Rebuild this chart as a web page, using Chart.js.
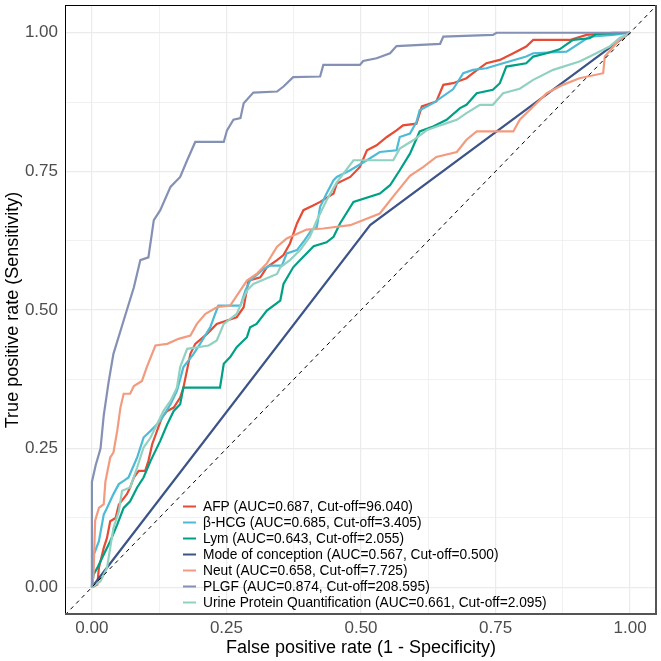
<!DOCTYPE html>
<html><head><meta charset="utf-8">
<script src="https://cdn.jsdelivr.net/npm/chart.js@4/dist/chart.umd.min.js"></script>
<style>html,body{margin:0;padding:0;background:#fff}canvas{display:block}</style>
</head><body>
<canvas id="c" width="661" height="661"></canvas>
<script>
// ---------- DATA ----------
const seriesNames = ["AFP", "β-HCG", "Lym", "Mode of conception", "Neut", "PLGF", "Urine Protein Quantification"];
const seriesAUC = ["0.687", "0.685", "0.643", "0.567", "0.658", "0.874", "0.661"];
const seriesCutoff = ["96.040", "3.405", "2.055", "0.500", "7.725", "208.595", "2.095"];

const afpFPR = [0,0.010,0.013,0.022,0.028,0.034,0.044,0.050,0.065,0.071,0.078,0.087,0.099,0.105,0.112,0.121,0.130,0.140,0.152,0.164,0.170,0.183,0.192,0.214,0.232,0.251,0.269,0.282,0.291,0.313,0.325,0.344,0.356,0.368,0.381,0.393,0.412,0.424,0.449,0.455,0.480,0.498,0.511,0.529,0.548,0.566,0.578,0.603,0.613,0.640,0.653,0.671,0.696,0.708,0.733,0.758,0.783,0.807,0.820,0.888,0.919,0.968,1.0];
const afpTPR = [0,0.005,0.035,0.071,0.089,0.119,0.125,0.149,0.168,0.180,0.198,0.210,0.210,0.228,0.258,0.282,0.306,0.318,0.324,0.342,0.360,0.421,0.439,0.457,0.475,0.481,0.487,0.505,0.553,0.559,0.577,0.590,0.599,0.620,0.656,0.680,0.689,0.695,0.710,0.728,0.740,0.758,0.788,0.797,0.812,0.824,0.833,0.836,0.867,0.876,0.906,0.909,0.918,0.927,0.945,0.951,0.963,0.975,0.987,0.987,0.996,1.0,1.0];

const hcgFPR = [0,0.003,0.006,0.013,0.022,0.028,0.040,0.050,0.059,0.068,0.084,0.096,0.109,0.127,0.146,0.158,0.170,0.189,0.201,0.220,0.229,0.235,0.276,0.285,0.294,0.319,0.331,0.353,0.362,0.381,0.393,0.408,0.418,0.424,0.430,0.436,0.449,0.455,0.480,0.511,0.535,0.566,0.572,0.591,0.603,0.609,0.634,0.671,0.690,0.708,0.733,0.764,0.807,0.820,0.882,0.925,0.968,1.0];
const hcgTPR = [0,0.059,0.065,0.083,0.131,0.143,0.168,0.186,0.192,0.198,0.234,0.270,0.282,0.300,0.330,0.354,0.397,0.421,0.439,0.469,0.493,0.508,0.508,0.535,0.553,0.574,0.580,0.580,0.602,0.608,0.623,0.644,0.650,0.686,0.698,0.710,0.734,0.740,0.752,0.770,0.785,0.788,0.812,0.818,0.839,0.860,0.873,0.898,0.927,0.933,0.936,0.945,0.957,0.963,0.966,0.993,0.996,1.0];

const lymFPR = [0,0.003,0.010,0.022,0.034,0.047,0.059,0.071,0.084,0.096,0.109,0.127,0.140,0.152,0.164,0.170,0.238,0.245,0.257,0.269,0.288,0.294,0.306,0.325,0.350,0.356,0.374,0.387,0.412,0.436,0.449,0.461,0.486,0.535,0.554,0.572,0.591,0.609,0.634,0.659,0.684,0.696,0.715,0.745,0.758,0.770,0.807,0.820,0.845,0.869,0.882,0.894,0.925,0.937,1.0];
const lymTPR = [0,0.023,0.035,0.059,0.083,0.113,0.143,0.155,0.180,0.198,0.228,0.264,0.294,0.318,0.330,0.360,0.360,0.403,0.415,0.433,0.451,0.469,0.475,0.499,0.517,0.547,0.577,0.590,0.615,0.622,0.632,0.656,0.695,0.710,0.725,0.752,0.782,0.822,0.831,0.843,0.864,0.870,0.891,0.897,0.909,0.939,0.945,0.957,0.963,0.970,0.979,0.987,0.990,0.998,1.0];

const modeFPR = [0,0.517,1.0];
const modeTPR = [0,0.653,1.0];

const neutFPR = [0,0.003,0.006,0.013,0.022,0.025,0.034,0.040,0.047,0.053,0.059,0.071,0.078,0.093,0.102,0.118,0.140,0.161,0.183,0.195,0.211,0.232,0.257,0.288,0.306,0.325,0.344,0.362,0.399,0.430,0.480,0.535,0.560,0.591,0.616,0.640,0.678,0.696,0.715,0.783,0.795,0.820,0.845,0.875,0.906,0.950,0.953,0.980,1.0];
const neutTPR = [0,0.023,0.12,0.143,0.15,0.19,0.234,0.243,0.282,0.324,0.349,0.349,0.363,0.372,0.397,0.436,0.439,0.448,0.454,0.475,0.493,0.505,0.508,0.553,0.565,0.584,0.614,0.629,0.645,0.647,0.653,0.674,0.705,0.742,0.758,0.776,0.785,0.807,0.822,0.822,0.843,0.867,0.891,0.906,0.918,0.927,0.957,0.987,1.0];

const plgfFPR = [0,0,0.007,0.016,0.022,0.031,0.040,0.059,0.078,0.090,0.105,0.115,0.127,0.146,0.164,0.177,0.192,0.245,0.251,0.263,0.276,0.282,0.300,0.344,0.356,0.374,0.424,0.430,0.498,0.504,0.529,0.554,0.566,0.647,0.653,0.745,0.752,1.0];
const plgfTPR = [0,0.19,0.22,0.25,0.31,0.37,0.421,0.481,0.541,0.590,0.595,0.662,0.680,0.722,0.740,0.770,0.803,0.803,0.824,0.843,0.846,0.873,0.892,0.894,0.903,0.920,0.921,0.942,0.942,0.949,0.954,0.963,0.976,0.980,0.993,0.996,1.0,1.0];

const urineFPR = [0,0.016,0.028,0.034,0.040,0.050,0.056,0.071,0.084,0.096,0.109,0.121,0.133,0.146,0.158,0.164,0.177,0.217,0.232,0.245,0.269,0.288,0.300,0.344,0.350,0.368,0.387,0.405,0.418,0.436,0.455,0.486,0.560,0.572,0.597,0.622,0.647,0.678,0.696,0.721,0.745,0.764,0.795,0.820,0.857,0.906,0.925,0.962,0.980,1.0];
const urineTPR = [0,0.011,0.035,0.071,0.107,0.137,0.174,0.180,0.216,0.252,0.270,0.294,0.318,0.336,0.360,0.397,0.430,0.436,0.445,0.475,0.493,0.535,0.547,0.565,0.577,0.590,0.608,0.632,0.662,0.698,0.730,0.770,0.770,0.791,0.806,0.824,0.833,0.843,0.855,0.870,0.870,0.891,0.899,0.915,0.933,0.948,0.957,0.975,0.990,1.0];

const diagX = [-0.05, 1.05];
const diagY = [-0.05, 1.05];

const gridValues = [0, 0.125, 0.25, 0.375, 0.5, 0.625, 0.75, 0.875, 1];
const xTickValues = [0, 0.25, 0.5, 0.75, 1];
const xTickLabels = ["0.00", "0.25", "0.50", "0.75", "1.00"];
const yTickValues = [0, 0.25, 0.5, 0.75, 1];
const yTickLabels = ["0.00", "0.25", "0.50", "0.75", "1.00"];
const xTitle = "False positive rate (1 - Specificity)";
const yTitle = "True positive rate (Sensitivity)";

// ---------- BUILD ----------
const colors = ["#E64B35", "#4DBBD5", "#00A087", "#3C5488", "#F39B7F", "#8491B4", "#91D1C2"];
const xs = [afpFPR, hcgFPR, lymFPR, modeFPR, neutFPR, plgfFPR, urineFPR];
const ys = [afpTPR, hcgTPR, lymTPR, modeTPR, neutTPR, plgfTPR, urineTPR];
const zip = (a, b) => a.map((v, i) => ({x: v, y: b[i]}));
const FONT = '"Liberation Sans", Arial, Helvetica, sans-serif';

const datasets = seriesNames.map((n, i) => ({
  label: n + " (AUC=" + seriesAUC[i] + ", Cut-off=" + seriesCutoff[i] + ")",
  data: zip(xs[i], ys[i]),
  borderColor: colors[i],
  backgroundColor: colors[i],
  borderWidth: 2.2,
  pointRadius: 0,
  showLine: true,
  fill: false,
  tension: 0,
  order: 7 - i + 1,
  inLegend: true
}));
datasets.push({
  label: "diag",
  data: zip(diagX, diagY),
  borderColor: "#000",
  borderWidth: 1,
  borderDash: [4, 4],
  pointRadius: 0,
  showLine: true,
  fill: false,
  order: 0,
  inLegend: false
});

function labelFor(vals, labels, v) {
  for (let i = 0; i < vals.length; i++) if (Math.abs(vals[i] - v) < 1e-9) return labels[i];
  return "";
}
function isMajor(v) { return Math.abs(v * 4 - Math.round(v * 4)) < 1e-9; }
function noPad(s) { s.paddingTop = 0; s.paddingBottom = 0; s.paddingLeft = 0; s.paddingRight = 0; }

const framePlugin = {
  id: "frame",
  afterDraw(chart) {
    const {ctx, chartArea: a} = chart;
    ctx.save();
    ctx.strokeStyle = "#000";
    ctx.lineWidth = 1;
    ctx.strokeRect(a.left + 0.5, a.top + 0.5, a.right - a.left - 1, a.bottom - a.top - 1);
    ctx.strokeStyle = "#555";
    ctx.lineWidth = 2;
    ctx.beginPath();
    ctx.moveTo(a.right - 1, a.top);
    ctx.lineTo(a.right - 1, a.bottom - 1);
    ctx.lineTo(a.left, a.bottom - 1);
    ctx.stroke();
    // legend
    const items = chart.data.datasets.filter(d => d.inLegend);
    const x0 = 183, y0 = 506, dy = 16;
    ctx.font = "13.75px " + FONT;
    ctx.textBaseline = "middle";
    ctx.textAlign = "left";
    items.forEach((d, i) => {
      const y = y0 + i * dy;
      ctx.strokeStyle = d.borderColor;
      ctx.lineWidth = 2;
      ctx.beginPath();
      ctx.moveTo(x0, y + 0.5);
      ctx.lineTo(x0 + 13, y + 0.5);
      ctx.stroke();
      ctx.fillStyle = "#000";
      ctx.fillText(d.label, x0 + 20, y + 1);
    });
    ctx.restore();
  }
};

new Chart(document.getElementById("c"), {
  type: "scatter",
  data: {datasets},
  plugins: [framePlugin],
  options: {
    responsive: false,
    animation: false,
    layout: {padding: {top: 5, right: 4, left: 0, bottom: 0}},
    plugins: {legend: {display: false}, tooltip: {enabled: false}},
    scales: {
      x: {
        type: "linear", min: -0.05, max: 1.05,
        afterBuildTicks: s => { s.ticks = gridValues.map(v => ({value: v})); },
        afterFit: s => { s.height = 46; noPad(s); },
        grid: {color: "#ebebeb", lineWidth: c => (c.tick && isMajor(c.tick.value)) ? 1.2 : 0.7, drawTicks: false},
        border: {display: false},
        ticks: {padding: 3, color: "#4d4d4d", font: {family: FONT, size: 17}, maxRotation: 0, autoSkip: false,
                callback: v => labelFor(xTickValues, xTickLabels, v)},
        title: {display: true, text: xTitle, color: "#000", font: {family: FONT, size: 18}, padding: {top: 0, bottom: 2}}
      },
      y: {
        type: "linear", min: -0.05, max: 1.05,
        afterBuildTicks: s => { s.ticks = gridValues.map(v => ({value: v})); },
        afterFit: s => { s.width = 65; noPad(s); },
        grid: {color: "#ebebeb", lineWidth: c => (c.tick && isMajor(c.tick.value)) ? 1.2 : 0.7, drawTicks: false},
        border: {display: false},
        ticks: {padding: 7, color: "#4d4d4d", font: {family: FONT, size: 17}, autoSkip: false,
                callback: v => labelFor(yTickValues, yTickLabels, v)},
        title: {display: true, text: yTitle, color: "#000", font: {family: FONT, size: 18}, padding: {top: 2, bottom: 0}}
      }
    }
  }
});
</script></body></html>
